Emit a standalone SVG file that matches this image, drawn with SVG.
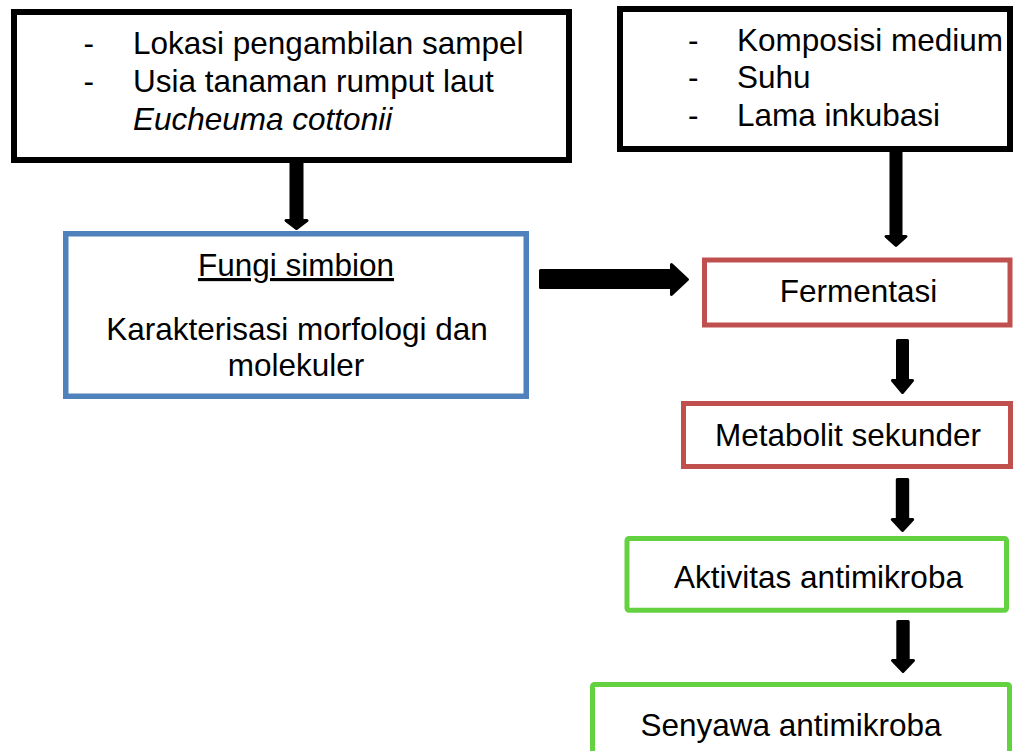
<svg xmlns="http://www.w3.org/2000/svg" width="1013" height="751" viewBox="0 0 1013 751">
<defs>
<style>
.t{font-family:"Liberation Sans",Arial,sans-serif;font-size:31.5px;fill:#000}
.m{text-anchor:middle}
.bk{fill:#fff;stroke:#000;stroke-width:6}
.bl{fill:#fff;stroke:#4F81BD;stroke-width:5.5}
.rd{fill:#fff;stroke:#C0504D;stroke-width:5}
.gr{fill:#fff;stroke:#64D140;stroke-width:5}
.ar{fill:#000;stroke:#000;stroke-width:3;stroke-linejoin:round}
</style>
</defs>
<rect width="1013" height="751" fill="#fff"/>
<g id="connectors">
<path class="ar" d="M291,161 L302,161 L302,220.5 L307,220.5 L296.5,228.5 L286,220.5 L291,220.5 Z"/>
<path class="ar" d="M891,150 L901,150 L901,236.5 L906,236.5 L896,245.5 L886,236.5 L891,236.5 Z"/>
<path class="ar" d="M897.5,340.5 L907.5,340.5 L907.5,380.5 L912.5,380.5 L902.5,392.5 L892.5,380.5 L897.5,380.5 Z"/>
<path class="ar" d="M897.3,479.5 L907.7,479.5 L907.7,519.5 L912.7,519.5 L902.5,530.5 L892.3,519.5 L897.3,519.5 Z"/>
<path class="ar" d="M897.8,621.5 L908.2,621.5 L908.2,660.5 L913.5,660.5 L903,671.5 L892.5,660.5 L897.8,660.5 Z"/>
<path class="ar" d="M540.5,270.5 L671.5,270.5 L671.5,264.5 L687.5,279.5 L671.5,294.5 L671.5,287.5 L540.5,287.5 Z"/>
</g>
<g id="node-faktor-sampel">
<rect class="bk" x="14" y="12" width="555" height="148"/>
<text class="t" x="83.6" y="54">-</text>
<text class="t" x="133" y="54">Lokasi pengambilan sampel</text>
<text class="t" x="83.6" y="92">-</text>
<text class="t" x="133" y="92">Usia tanaman rumput laut</text>
<text class="t" x="133" y="130" font-style="italic">Eucheuma cottonii</text>
</g>
<g id="node-faktor-fermentasi">
<rect class="bk" x="620" y="9" width="390" height="140"/>
<text class="t" x="688" y="51">-</text>
<text class="t" x="737" y="51">Komposisi medium</text>
<text class="t" x="688" y="88">-</text>
<text class="t" x="737" y="88">Suhu</text>
<text class="t" x="688" y="126">-</text>
<text class="t" x="737" y="126">Lama inkubasi</text>
</g>
<g id="node-fungi">
<rect class="bl" x="65.75" y="233.75" width="460.5" height="162.5"/>
<text class="t m" x="296" y="276" text-decoration="underline">Fungi simbion</text>
<text class="t m" x="297" y="340">Karakterisasi morfologi dan</text>
<text class="t m" x="296" y="376">molekuler</text>
</g>
<g id="node-fermentasi">
<rect class="rd" x="704.5" y="260" width="305.5" height="65"/>
<text class="t m" x="858.5" y="302">Fermentasi</text>
</g>
<g id="node-metabolit">
<rect class="rd" x="683.5" y="403.5" width="327" height="63"/>
<text class="t m" x="848" y="446">Metabolit sekunder</text>
</g>
<g id="node-aktivitas">
<rect class="gr" x="627" y="538.5" width="379.5" height="71.7" rx="2"/>
<text class="t m" x="818.5" y="588">Aktivitas antimikroba</text>
</g>
<g id="node-senyawa">
<rect class="gr" x="592.5" y="684.5" width="417" height="90" rx="2"/>
<text class="t m" x="791" y="736">Senyawa antimikroba</text>
</g>
</svg>
